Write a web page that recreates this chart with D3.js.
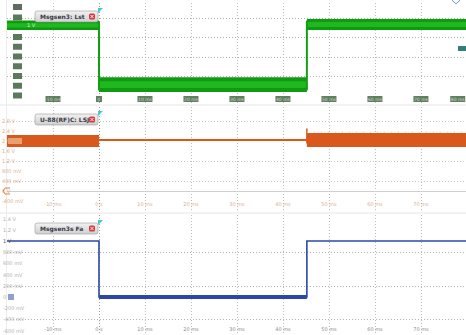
<!DOCTYPE html>
<html><head><meta charset="utf-8">
<script src="https://cdn.jsdelivr.net/npm/d3@7/dist/d3.min.js"></script>
<style>body{margin:0;background:#fff;}svg{display:block;font-family:"DejaVu Sans",sans-serif;}</style>
</head><body><svg id="c" width="466" height="335"></svg>
<script>
// ---- data ----
const timeTicks = [-10, 0, 10, 20, 30, 40, 50, 60, 70];
const timeTickLabels = ["-10 ms", "0 s", "10 ms", "20 ms", "30 ms", "40 ms", "50 ms", "60 ms", "70 ms"];
const segTimes = [-20, 0, 45.2, 79.8];           // segment boundaries (ms)
const greenLevels = [3.6, 0.56, 3.64];           // panel 1 level per segment
const greenNoise = [0.24, 0.38, 0.28];           // panel 1 band half-width
const orangeLevels = [2.0, 2.04, 2.04];          // panel 2 (V)
const orangeNoise = [0.24, 0.04, 0.28];
const blueLevels = [1.0, 0.0, 1.0];              // panel 3 (V)
const greenTicks = [0, 0.5, 1, 1.5, 2, 2.5, 3, 3.5, 4];
const greenGrid = [1, 2, 3, 4];
const orangeTicks = [-0.4, 0, 0.4, 0.8, 1.2, 1.6, 2.0, 2.4, 2.8];
const orangeTickLabels = ["-400 mV", "0 V", "400 mV", "800 mV", "1.2 V", "1.6 V", "2 V", "2.4 V", "2.8 V"];
const orangeGrid = [0.4, 1.2, 2.8];
const blueTicks = [-0.6, -0.4, -0.2, 0, 0.2, 0.4, 0.6, 0.8, 1.0, 1.2, 1.4];
const blueTickLabels = ["-600 mV", "-400 mV", "-200 mV", "0 V", "200 mV", "400 mV", "600 mV", "800 mV", "1 V", "1.2 V", "1.4 V"];
const blueGrid = [-0.4, 0.2, 0.8];
const panelTitles = ["Msgsen3: Lst", "U-88(RF)C: LSJ", "Msgsen3s Fa"];

// ---- scales ----
const svg = d3.select("#c");
const x = d3.scaleLinear().domain([-20, 79.8]).range([7, 466]);
const y1 = d3.scaleLinear().domain([0, 4]).range([95.5, 17.5]);
const y2 = d3.scaleLinear().domain([0, 2]).range([191, 141]);
const y3 = d3.scaleLinear().domain([0, 1]).range([297, 241]);

const panels = [
  {top: 3, bottom: 103, y: y1},
  {top: 107, bottom: 211, y: y2},
  {top: 215, bottom: 333, y: y3}
];

// panel separators
svg.append("line").attr("x1", 0).attr("x2", 466).attr("y1", 105).attr("y2", 105).attr("stroke", "#e6e6e6");
svg.append("line").attr("x1", 0).attr("x2", 466).attr("y1", 213).attr("y2", 213).attr("stroke", "#e6e6e6");
svg.append("line").attr("x1", 6.5).attr("x2", 6.5).attr("y1", 0).attr("y2", 335).attr("stroke", "#ececec");

// vertical grid
panels.forEach(p => {
  const g = svg.append("g");
  g.selectAll("line").data(timeTicks.concat([80])).join("line")
    .attr("x1", d => Math.round(x(d)) + 0.5).attr("x2", d => Math.round(x(d)) + 0.5)
    .attr("y1", p.top).attr("y2", p.bottom)
    .attr("stroke", d => d === 0 ? "#9a9a9a" : "#bcbcbc")
    .attr("stroke-dasharray", "1,2");
});

// horizontal grids
function hgrid(vals, y, col) {
  svg.append("g").selectAll("line").data(vals).join("line")
    .attr("x1", 7).attr("x2", 466)
    .attr("y1", d => Math.round(y(d)) + 0.5).attr("y2", d => Math.round(y(d)) + 0.5)
    .attr("stroke", col || "#b0b0b0").attr("stroke-dasharray", "1,2");
}
hgrid(greenGrid, y1);
hgrid(orangeGrid, y2, "#c8c8c8");
hgrid(blueGrid, y3);
// zero line
svg.append("line").attr("x1", 7).attr("x2", 466).attr("y1", Math.round(y2(0)) + 0.5).attr("y2", Math.round(y2(0)) + 0.5).attr("stroke", "#cfcfcf");

// ---- Panel 1 (green band) ----
greenLevels.forEach((l, i) => {
  const seg = [{t: segTimes[i], v: l, n: greenNoise[i]}, {t: segTimes[i + 1], v: l, n: greenNoise[i]}];
  svg.append("path").datum(seg).attr("d", d3.area().x(d => x(d.t)).y0(d => y1(d.v - d.n)).y1(d => y1(d.v + d.n))).attr("fill", "#0f9a12");
  svg.append("path").datum(seg).attr("d", d3.area().x(d => x(d.t)).y0(d => y1(d.v - d.n * 0.45)).y1(d => y1(d.v + d.n * 0.45))).attr("fill", "#1fb81f");
});
for (let i = 1; i < greenLevels.length; i++) {
  svg.append("line").attr("x1", x(segTimes[i])).attr("x2", x(segTimes[i]))
    .attr("y1", y1(Math.max(greenLevels[i - 1], greenLevels[i]) + 0.2)).attr("y2", y1(Math.min(greenLevels[i - 1], greenLevels[i]) - 0.3))
    .attr("stroke", "#12a012").attr("stroke-width", 2);
}
svg.append("g").selectAll("rect").data(greenTicks.filter(d => d !== 3.5)).join("rect")
  .attr("x", 13).attr("y", d => y1(d) - 3).attr("width", 9).attr("height", 6)
  .attr("fill", "#5b7a5b");
svg.append("rect").attr("x", 13).attr("y", 4).attr("width", 9).attr("height", 6).attr("fill", "#5e6e5e");
svg.append("text").attr("x", 27).attr("y", y1(3.6) + 2).attr("font-size", 5).attr("fill", "#dfeedf").text("1 V");
const tb = svg.append("g");
timeTicks.concat([78]).forEach((t, i) => {
  const w = t === 0 ? 6 : 15;
  tb.append("rect").attr("x", x(t) - w / 2).attr("y", 96).attr("width", w).attr("height", 6).attr("fill", "#5f7f5f");
  tb.append("text").attr("x", x(t)).attr("y", 100.8).attr("text-anchor", "middle").attr("font-size", 4.5).attr("fill", "#c9d9c9")
    .text(i < timeTickLabels.length ? (t === 0 ? "0" : timeTickLabels[i]) : "80 ms");
});
svg.append("rect").attr("x", 458).attr("y", 46).attr("width", 8).attr("height", 5).attr("fill", "#2f7f7a");

// ---- Panel 2 (orange) ----
orangeLevels.forEach((l, i) => {
  const seg = [{t: segTimes[i], v: l, n: orangeNoise[i]}, {t: segTimes[i + 1], v: l, n: orangeNoise[i]}];
  svg.append("path").datum(seg).attr("d", d3.area().x(d => x(d.t)).y0(d => y2(d.v - d.n)).y1(d => y2(d.v + d.n))).attr("fill", "#d9581b");
});
svg.append("line").attr("x1", x(45.2)).attr("x2", x(45.2)).attr("y1", y2(2.5)).attr("y2", y2(1.9)).attr("stroke", "#d9581b").attr("stroke-width", 1.5);
svg.append("line").attr("x1", x(45.2)).attr("x2", x(79.8)).attr("y1", y2(2.35)).attr("y2", y2(2.35)).attr("stroke", "#f0c0a0").attr("stroke-dasharray", "1,6");
svg.append("g").selectAll("text").data(orangeTicks).join("text")
  .attr("x", 2).attr("y", d => y2(d) + 2).attr("font-size", 5).attr("fill", "#dcae8c")
  .text((d, i) => orangeTickLabels[i]);
svg.append("rect").attr("x", 8).attr("y", y2(2) - 3).attr("width", 14).attr("height", 6).attr("fill", "#e8a070");
svg.append("path").attr("d", `M${10},${y2(0) - 3} L${5},${y2(0) - 3} L${3},${y2(0)} L${5},${y2(0) + 3} L${10},${y2(0) + 3}`).attr("fill", "none").attr("stroke", "#e08040");
svg.append("g").selectAll("text").data(timeTicks).join("text")
  .attr("x", d => x(d)).attr("y", 206).attr("text-anchor", "middle").attr("font-size", 5).attr("fill", "#dcae8c")
  .text((d, i) => timeTickLabels[i]);

// ---- Panel 3 (blue) ----
const blueLine = d3.line().x(d => x(d.t)).y(d => y3(d.v)).curve(d3.curveStepAfter);
const bd = blueLevels.map((l, i) => ({t: segTimes[i], v: l})).concat([{t: segTimes[3], v: blueLevels[2]}]);
svg.append("path").datum(bd).attr("d", blueLine).attr("fill", "none").attr("stroke", "#2b48a8").attr("stroke-width", 1.6);
svg.append("path").datum([{t: 0, v: 0}, {t: 45.2, v: 0}]).attr("d", d3.line().x(d => x(d.t)).y(d => y3(d.v)))
  .attr("stroke", "#2b48a8").attr("stroke-width", 4);
svg.append("g").selectAll("text").data(blueTicks).join("text")
  .attr("x", 3).attr("y", d => y3(d) + 2).attr("font-size", 5).attr("fill", d => d === 1 ? "#555" : "#b0b0b0")
  .text((d, i) => blueTickLabels[i]);
svg.append("rect").attr("x", 8).attr("y", y3(0) - 3).attr("width", 6).attr("height", 6).attr("fill", "#8da0d0");
svg.append("g").selectAll("text").data(timeTicks).join("text")
  .attr("x", d => x(d)).attr("y", 331).attr("text-anchor", "middle").attr("font-size", 5).attr("fill", "#8a8a8a")
  .text((d, i) => timeTickLabels[i]);

// ---- title boxes ----
const grad = svg.append("defs").append("linearGradient").attr("id", "tg").attr("x1", 0).attr("x2", 0).attr("y1", 0).attr("y2", 1);
grad.append("stop").attr("offset", 0).attr("stop-color", "#f2f2f2");
grad.append("stop").attr("offset", 1).attr("stop-color", "#cfcfcf");
[11, 114, 223].forEach((ty, i) => {
  const g = svg.append("g").attr("transform", `translate(35,${ty})`);
  g.append("rect").attr("width", 63).attr("height", 11).attr("rx", 2).attr("fill", "url(#tg)").attr("stroke", "#9a9a9a").attr("stroke-width", 0.6);
  g.append("text").attr("x", 5).attr("y", 7.8).attr("font-size", 6).attr("font-weight", "bold").attr("fill", "#3a3a4a").text(panelTitles[i]);
  g.append("rect").attr("x", 54).attr("y", 2.5).attr("width", 6).attr("height", 6).attr("rx", 1.5).attr("fill", "#d63a3a");
  g.append("path").attr("d", "M55.5,4 L58.5,7 M58.5,4 L55.5,7").attr("stroke", "#fff").attr("stroke-width", 0.9);
  g.append("path").attr("d", "M63,-3 L68,-3 L63,2 Z").attr("fill", "#3ec8d8");
});
svg.append("path").attr("d", "M452,0 L456,4 L460,0").attr("fill", "none").attr("stroke", "#6aa0d8").attr("stroke-width", 1);
</script></body></html>
